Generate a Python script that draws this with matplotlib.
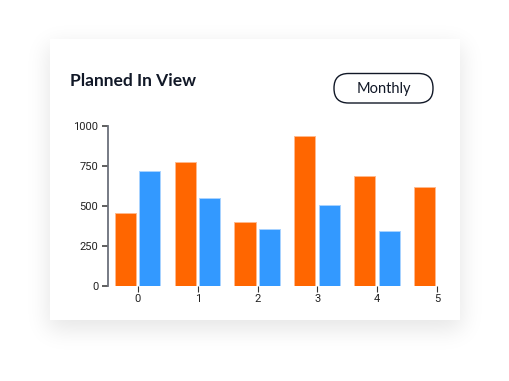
import math
import matplotlib.pyplot as plt
import numpy as np
from matplotlib.patches import Rectangle, FancyBboxPatch

groups = [0, 1, 2, 3, 4, 5]
planned = [455, 773, 398, 935, 690, 620]
actual = [720, 552, 358, 504, 342]
y_ticks = [0, 250, 500, 750, 1000]

orange = "#ff6600"
blue = "#3399ff"
text_dark = "#111827"
axis_grey = "#6b6f7b"


def blurred_box(coords, lo, hi, sigma):
    erf = np.vectorize(math.erf)
    return 0.5 * (erf((coords - lo) / sigma) - erf((coords - hi) / sigma))


def main():
    fig = plt.figure(figsize=(5.1, 3.81), dpi=100)
    fig.patch.set_facecolor("white")
    W, H = 510.0, 381.0

    # background axes in pixel units for the card, shadow and button
    bg = fig.add_axes([0, 0, 1, 1])
    bg.set_xlim(0, W)
    bg.set_ylim(H, 0)
    bg.axis("off")

    # soft shadow under the card
    xs = np.arange(510) + 0.5
    ys = np.arange(381) + 0.5
    sx = blurred_box(xs, 48, 462, 16)
    sy = blurred_box(ys, 45, 330, 16)
    shade = 0.10 * np.outer(sy, sx)
    rgba = np.zeros((381, 510, 4))
    rgba[..., 3] = shade
    bg.imshow(rgba, extent=(0, W, H, 0), interpolation="bilinear", zorder=0,
              aspect="auto")

    # card
    bg.add_patch(Rectangle((50, 39), 410, 281, facecolor="white", edgecolor="none", zorder=1))

    bg.text(70, 86, "Planned In View", fontsize=12.5, fontweight="bold",
            family="Lato", color=text_dark, ha="left", va="baseline", zorder=3)

    # Monthly button
    bg.add_patch(FancyBboxPatch((334, 73.5), 99, 29.5,
                                boxstyle="round,pad=0,rounding_size=14.5",
                                facecolor="white", edgecolor=text_dark,
                                linewidth=1.0, zorder=3))
    bg.text(383.5, 88.5, "Monthly", fontsize=10.5, family="Lato",
            color=text_dark, ha="center", va="center", zorder=4)
    bg.set_xlim(0, W)
    bg.set_ylim(H, 0)

    ax = fig.add_axes([108 / W, 1 - 286 / H, 335 / W, 160 / H])
    ax.patch.set_alpha(0)

    x = np.array(groups)
    ax.bar(x - 0.21, planned, width=0.355, color=orange, edgecolor="#ffb98c",
           linewidth=0.7)
    ax.bar(x[:len(actual)] + 0.2, actual, width=0.355, color=blue,
           edgecolor="#a8d3ff", linewidth=0.7)

    ax.set_xlim(-0.5, 5.1)
    ax.set_ylim(0, 1000)
    ax.set_xticks(groups)
    ax.set_yticks(y_ticks)
    for s in ["top", "right", "bottom"]:
        ax.spines[s].set_visible(False)
    ax.spines["left"].set_color(axis_grey)
    ax.spines["left"].set_linewidth(1.3)
    ax.tick_params(axis="y", length=4, width=1.1, color="#333333", pad=3,
                   labelsize=8, labelcolor="#222222")
    ax.tick_params(axis="x", length=4, width=0.8, color="#333333", pad=2,
                   labelsize=8, labelcolor="#222222")
    for lab in ax.get_xticklabels() + ax.get_yticklabels():
        lab.set_family("Roboto")

    plt.savefig("out.png", dpi=100)


if __name__ == "__main__":
    main()
